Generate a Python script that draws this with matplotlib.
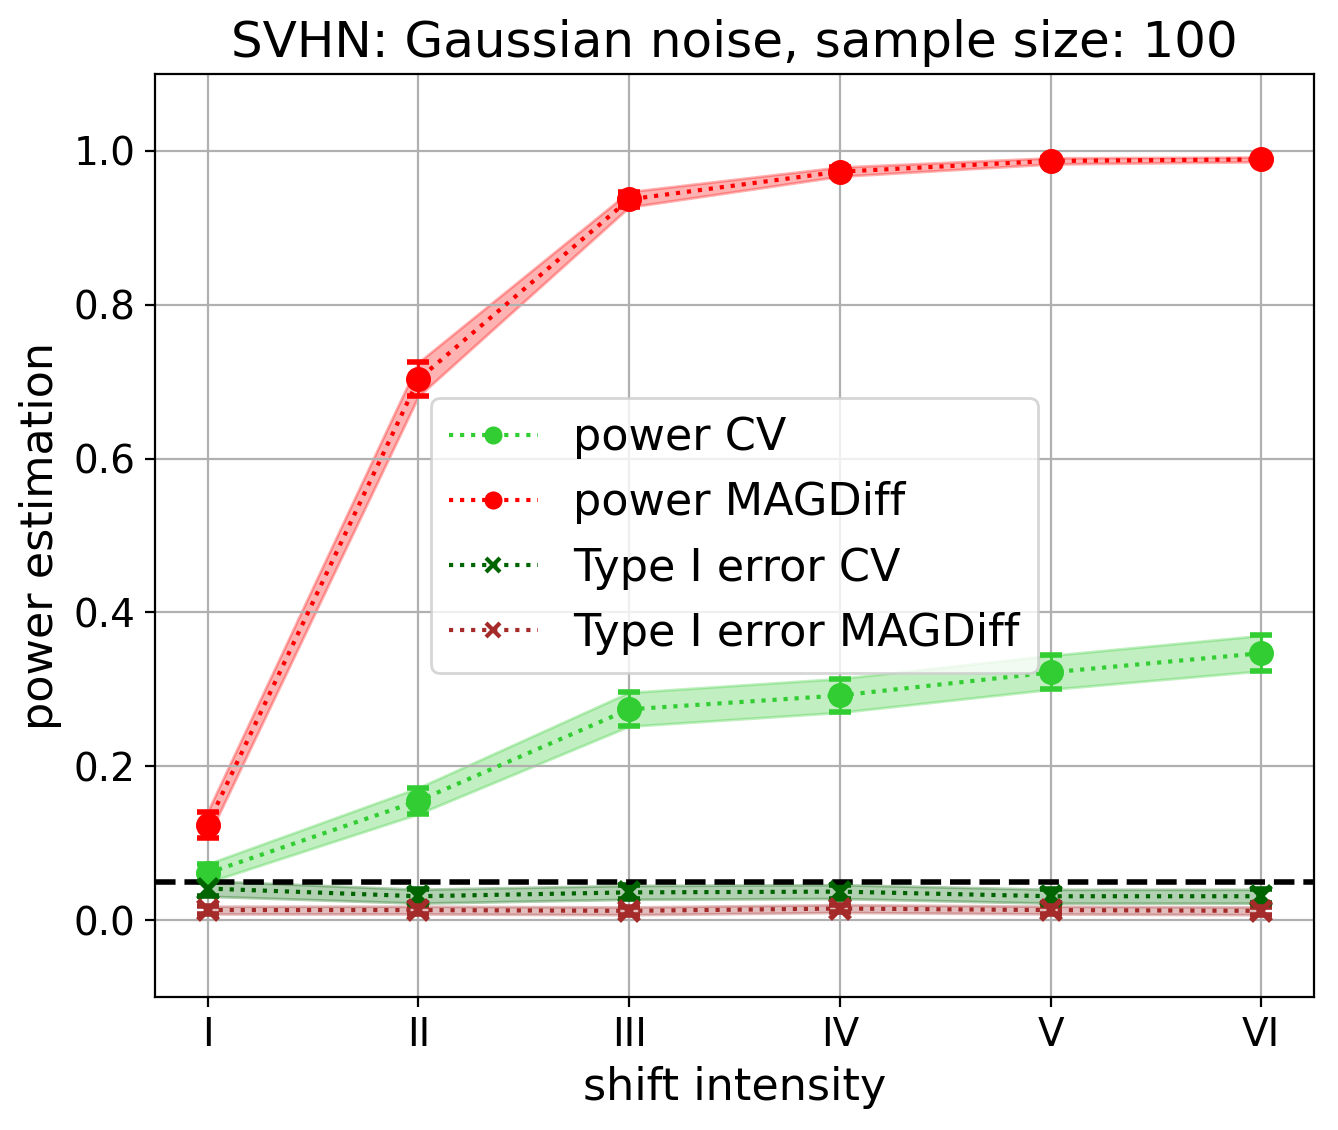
import matplotlib
matplotlib.use("Agg")
import matplotlib.pyplot as plt
import numpy as np

# shift intensities
intensity_labels = ["I", "II", "III", "IV", "V", "VI"]

# power estimates (mean and std over runs)
power_cv = [0.061, 0.155, 0.274, 0.292, 0.322, 0.347]
power_cv_err = [0.012, 0.017, 0.022, 0.022, 0.022, 0.023]
power_magdiff = [0.124, 0.703, 0.937, 0.973, 0.987, 0.989]
power_magdiff_err = [0.017, 0.022, 0.010, 0.006, 0.004, 0.003]

# type I error estimates
type1_cv = [0.041, 0.031, 0.036, 0.037, 0.031, 0.031]
type1_cv_err = [0.010, 0.009, 0.009, 0.009, 0.009, 0.009]
type1_magdiff = [0.013, 0.013, 0.012, 0.015, 0.013, 0.012]
type1_magdiff_err = [0.005, 0.005, 0.005, 0.005, 0.005, 0.005]

alpha_level = 0.05

series = [
    ("power CV", power_cv, power_cv_err, "limegreen", "o"),
    ("power MAGDiff", power_magdiff, power_magdiff_err, "red", "o"),
    ("Type I error CV", type1_cv, type1_cv_err, "darkgreen", "x"),
    ("Type I error MAGDiff", type1_magdiff, type1_magdiff_err, "brown", "x"),
]

fig = plt.figure(figsize=(6.69, 5.65), dpi=200)
ax = fig.add_subplot(1, 1, 1)
fig.subplots_adjust(left=0.1158, right=0.982, top=0.9345, bottom=0.1177)

x = np.arange(len(intensity_labels))
for label, mean, err, color, marker in series:
    mean = np.array(mean)
    err = np.array(err)
    ax.plot(x, mean, linestyle=":", linewidth=1.5, color=color, marker=marker,
            markersize=5, markeredgewidth=1.5, label=label)
    ax.errorbar(x, mean, yerr=err, fmt=marker, color=color, markersize=7,
                markeredgewidth=2, capsize=4, elinewidth=1, capthick=1)
    ax.fill_between(x, mean - err, mean + err, color=color, alpha=0.3)

ax.axhline(alpha_level, color="black", linestyle="--", linewidth=2)

ax.set_xticks(x)
ax.set_xticklabels(intensity_labels)
ax.set_ylim(-0.1, 1.1)
ax.tick_params(labelsize=14)
ax.grid(True)
ax.set_xlabel("shift intensity", fontsize=16)
ax.set_ylabel("power estimation", fontsize=16)
ax.set_title("SVHN: Gaussian noise, sample size: 100", fontsize=18)
ax.legend(loc="center", fontsize=16)

fig.savefig("out.png", dpi=200)
